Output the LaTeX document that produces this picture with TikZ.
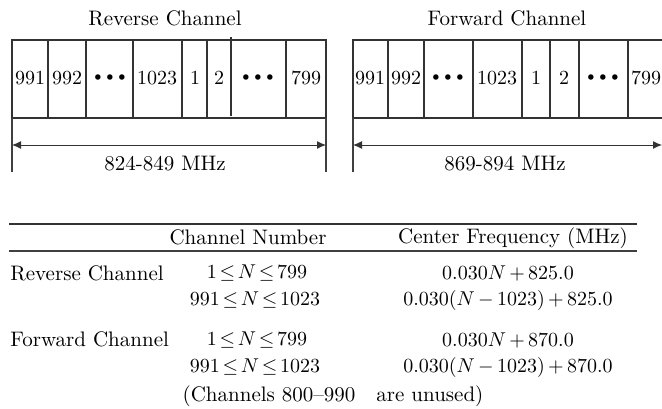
\documentclass[tikz,border=0pt]{standalone}
\usepackage{amsmath}
\usepackage{tikz}
\usetikzlibrary{arrows.meta}

% three heavy dots for skipped channels
\newcommand{\dotrow}{{\fontsize{6}{7}\selectfont$\bullet$\hspace{2.2pt}$\bullet$\hspace{2.2pt}$\bullet$}}
% tighter spacing round relations and operators
\newcommand{\tightrel}{\thickmuskip=2.5mu\relax\medmuskip=3mu\relax}

\begin{document}
\begin{tikzpicture}[
  x=0.5pt, y=-0.5pt,
  every node/.style={font=\fontsize{10.5}{12}\selectfont,inner sep=0pt,text=black},
  frame/.style={draw=black!80,line width=0.75pt},
  ext/.style={draw=black!75,line width=0.6pt},
  dim/.style={{Latex[length=4.5pt,width=4pt]}-{Latex[length=4.5pt,width=4pt]},
              draw=black!80,line width=0.5pt},
  num/.style={font=\fontsize{10}{12}\selectfont},
  math/.style={font=\fontsize{10}{12}\selectfont\tightrel},
  toprule/.style={draw=black!80,line width=1pt},
  midrule/.style={draw=black!75,line width=0.7pt}
]
  \useasboundingbox (0,0) rectangle (662,408);
  \clip (0,0) rectangle (662,408);

  % Reverse band (mobile -> base)
  \node (revtitle) at (165,18) {Reverse Channel};
  \draw[frame] (12,40) rectangle (326,118);
  \foreach \x in {48,86,133,182,207,286}
    \draw[frame] (\x,40) -- (\x,118);
  \draw[frame] (231,37) -- (231,116);
  \foreach \c/\t [count=\i] in {30/991,67/992,110/\dotrow,157/1023,195/1,219/2,258/\dotrow,306/799}
    \node[num] (r\i) at (\c,78) {\t};

  \coordinate (rl) at (12,145);
  \coordinate (rr) at (326,145);
  \draw[ext] (12,118) -- (12,172);
  \draw[ext] (326,118) -- (326,172);
  \draw[dim] (rl) -- (rr);
  \node (rband) at (165,164) {824-849 MHz};

  % Forward band (base -> mobile)
  \node (fwdtitle) at (507,18) {Forward Channel};
  \draw[frame] (353,40) rectangle (663,118);
  \foreach \x in {388,424,473,522,550,579,628}
    \draw[frame] (\x,40) -- (\x,118);
  \foreach \c/\t [count=\i] in {370/991,406/992,448/\dotrow,497/1023,536/1,564/2,603/\dotrow,646/799}
    \node[num] (f\i) at (\c,78) {\t};

  \coordinate (fl) at (353,145);
  \coordinate (fr) at (662,145);
  \draw[ext] (353,118) -- (353,172);
  \draw[dim] (fl) -- (fr);
  \node (fband) at (505,164) {869-894 MHz};

  % channel table
  \draw[toprule] (9,224) -- (637,224);
  \node (hnum) at (248,237) {Channel Number};
  \node (hfreq) at (513,238) {Center Frequency (MHz)};
  \draw[midrule] (9,251) -- (637,251);

  \node[anchor=west] (revrow) at (10,273) {Reverse Channel};
  \node[math] (revn1) at (257,273) {$1 \le N \le 799$};
  \node[math] (revn2) at (255,300) {$991 \le N \le 1023$};
  \node[math] (revf1) at (508,273) {$0.030N + 825.0$};
  \node[math] (revf2) at (508,300) {$0.030(N - 1023) + 825.0$};

  \node[anchor=west] (fwdrow) at (10,339) {Forward Channel};
  \node[math] (fwdn1) at (257,340) {$1 \le N \le 799$};
  \node[math] (fwdn2) at (255,367) {$991 \le N \le 1023$};
  \node[math] (fwdf1) at (508,340) {$0.030N + 870.0$};
  \node[math] (fwdf2) at (508,367) {$0.030(N - 1023) + 870.0$};

  \node (unused) at (333,396) {(Channels 800--990\quad are unused)};
\end{tikzpicture}
\end{document}
